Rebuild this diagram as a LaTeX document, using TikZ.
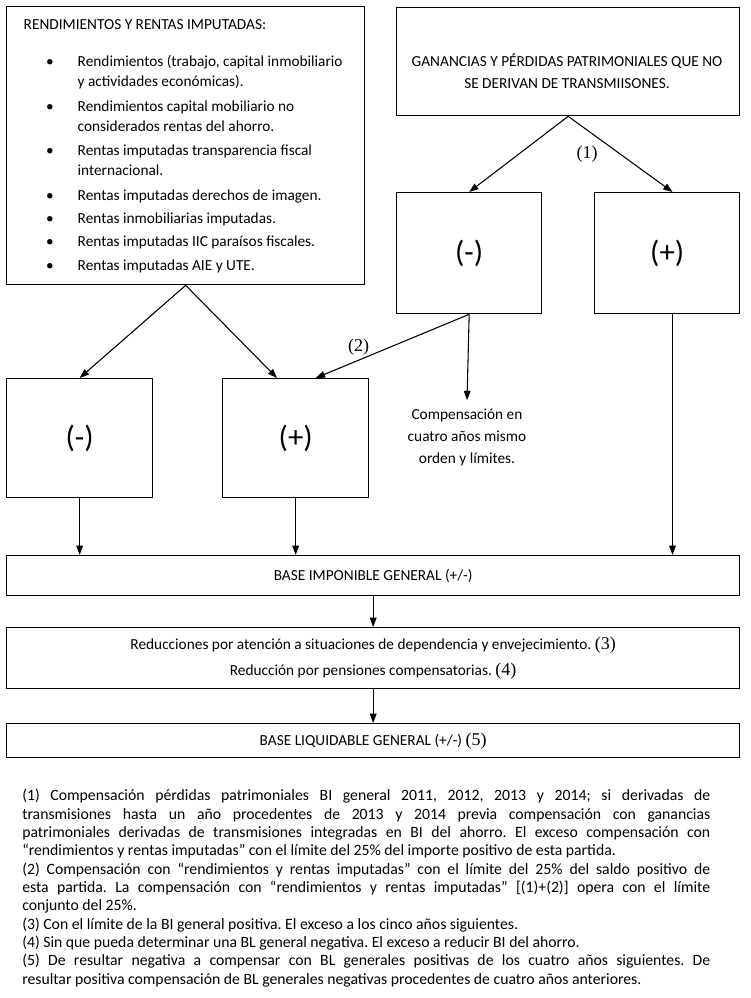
\documentclass[tikz,border=0pt]{standalone}
\usepackage{fontspec}
\setmainfont{Carlito}
\newfontfamily\numfont{Liberation Serif}
\usepackage{tikz}
\usetikzlibrary{arrows.meta}
\frenchspacing

\tikzset{
    caja/.style = {draw, rectangle, line width = 1pt, anchor = north west, inner sep = 0pt},
    flecha/.style = {-{Triangle[length = 7pt, width = 5pt]}, line width = 0.8pt},
    signo/.style = {font = \fontsize{23}{26}\selectfont},
    nota/.style = {font = \numfont\fontsize{13.5}{15}\selectfont}
}

\begin{document}
\begin{tikzpicture}[x = 0.75pt, y = -0.75pt, font = \fontsize{11.5}{14}\selectfont]
        \useasboundingbox (0, 0) rectangle (750, 998);

        \draw
            (6, 6) node[caja, minimum width = 268.5pt, minimum height = 208.5pt](rend){}
            (396, 7) node[caja, minimum width = 257.25pt, minimum height = 81pt](gan){}
            (396, 192) node[caja, signo, minimum width = 108.75pt, minimum height = 90.75pt](ganNeg){(-)}
            (594, 192) node[caja, signo, minimum width = 108.75pt, minimum height = 90.75pt](ganPos){(+)}
            (6, 378) node[caja, signo, minimum width = 109.5pt, minimum height = 89.25pt](rendNeg){(-)}
            (222, 378) node[caja, signo, minimum width = 109.5pt, minimum height = 89.25pt](rendPos){(+)}

            (6, 555) node[caja, minimum width = 549.75pt, minimum height = 30pt](bi){BASE IMPONIBLE GENERAL (+/-)}
            (6, 627) node[caja, minimum width = 549.75pt, minimum height = 45.75pt, align = center, font = \fontsize{11.5}{19.5}\selectfont](red){Reducciones por atención a situaciones de dependencia y envejecimiento. {\numfont\fontsize{13.5}{15}\selectfont (3)}\\Reducción por pensiones compensatorias. {\numfont\fontsize{13.5}{15}\selectfont (4)}}
            (6, 723) node[caja, minimum width = 549.75pt, minimum height = 25.5pt](bl){BASE LIQUIDABLE GENERAL (+/-) {\numfont\fontsize{13.5}{15}\selectfont (5)}}

            (567, 71) node[align = center, font = \fontsize{11.5}{16.5}\selectfont](ganTxt){GANANCIAS Y PÉRDIDAS PATRIMONIALES QUE NO\\SE DERIVAN DE TRANSMIISONES.}
            (19, 30) node[anchor = base west](rendTit){RENDIMIENTOS Y RENTAS IMPUTADAS:}
            (467, 437) node[align = center, inner sep = 6pt, font = \fontsize{11.5}{16.5}\selectfont](comp){Compensación en\\cuatro años mismo\\orden y límites.}
        ;

        \foreach \y/\b/\t in {63/1/{Rendimientos (trabajo, capital inmobiliario}, 83/0/{y actividades económicas).},
                108/1/{Rendimientos capital mobiliario no}, 128/0/{considerados rentas del ahorro.},
                152/1/{Rentas imputadas transparencia fiscal}, 172/0/{internacional.},
                197/1/{Rentas imputadas derechos de imagen.}, 220/1/{Rentas inmobiliarias imputadas.},
                243/1/{Rentas imputadas IIC paraísos fiscales.}, 267/1/{Rentas imputadas AIE y UTE.}}{
            \ifnum\b=1
                \node[anchor = base] (punto\y) at (50, \y + 4) {•};
            \fi
            \node[anchor = base west] (item\y) at (73, \y + 4) {\t};
        }

        \draw[flecha] (rend.south) -- (rendNeg.north);
        \draw[flecha] (rend.south) -- ([xshift = -14pt]rendPos.north);
        \draw[flecha] (gan.south) -- (ganNeg.north);
        \draw[flecha] (gan.south) --node[nota, pos = 0.33, below left]{(1)} ([xshift = 4pt]ganPos.north);
        \draw[flecha] (ganNeg.south) --node[nota, pos = 0.72, above]{(2)} ([xshift = 15pt]rendPos.north);
        \draw[flecha] (ganNeg.south) -- (comp.north);

        \draw[flecha] (rendNeg.south) -- (rendNeg.south |- bi.north);
        \draw[flecha] (rendPos.south) -- (rendPos.south |- bi.north);
        \draw[flecha] ([xshift = 4pt]ganPos.south) -- ([xshift = 4pt]ganPos.south |- bi.north);
        \draw[flecha] (bi.south) -- (red.north);
        \draw[flecha] (red.south) -- (bl.north);

        \draw
            (22, 789) node[anchor = north west, inner sep = 0pt, text width = 516pt, align = justify, font = \fontsize{11.8}{13.75}\selectfont](notas){(1) Compensación pérdidas patrimoniales BI general 2011, 2012, 2013 y 2014; si derivadas de\linebreak
            transmisiones hasta un año procedentes de 2013 y 2014 previa compensación con ganancias\linebreak
            patrimoniales derivadas de transmisiones integradas en BI del ahorro. El exceso compensación con\linebreak
            “rendimientos y rentas imputadas” con el límite del 25\% del importe positivo de esta partida.\\
            (2) Compensación con “rendimientos y rentas imputadas” con el límite del 25\% del saldo positivo de\linebreak
            esta partida. La compensación con “rendimientos y rentas imputadas” [(1)+(2)] opera con el límite\linebreak
            conjunto del 25\%.\\
            (3) Con el límite de la BI general positiva. El exceso a los cinco años siguientes.\\
            (4) Sin que pueda determinar una BL general negativa. El exceso a reducir BI del ahorro.\\
            (5) De resultar negativa a compensar con BL generales positivas de los cuatro años siguientes. De\linebreak
            resultar positiva compensación de BL generales negativas procedentes de cuatro años anteriores.}
        ;
    \end{tikzpicture}
\end{document}
